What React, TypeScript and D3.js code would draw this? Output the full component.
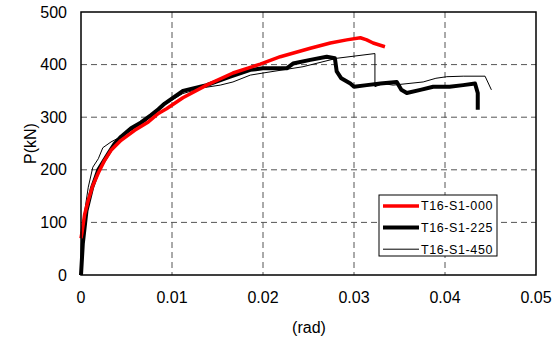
import * as d3 from 'd3';

// T16-S1-000 (red, thick)
const red000: [number, number][] = [
  [0, 70], [0.0001, 80], [0.0004, 115], [0.0008, 142], [0.0013, 170], [0.0019, 194],
  [0.0026, 218], [0.0033, 237], [0.0044, 256], [0.0059, 275], [0.0074, 291], [0.0085, 307],
  [0.0094, 316], [0.0112, 337], [0.0138, 361], [0.0167, 384], [0.0197, 401], [0.0219, 415],
  [0.0252, 431], [0.0274, 441], [0.0292, 447], [0.0307, 451], [0.0314, 447], [0.0321, 441],
  [0.0334, 434],
];

// T16-S1-225 (black, thick)
const black225: [number, number][] = [
  [0, 0], [0.0002, 60], [0.0006, 122], [0.0012, 165], [0.0019, 200], [0.003, 231],
  [0.0037, 250], [0.0044, 263], [0.0055, 279], [0.0066, 290], [0.0077, 304], [0.0085, 315],
  [0.0092, 326], [0.0112, 350], [0.0138, 361], [0.0164, 377], [0.0186, 390], [0.02, 393],
  [0.0226, 393], [0.0233, 402], [0.0252, 409], [0.027, 415], [0.0279, 412], [0.0281, 387],
  [0.0286, 374], [0.0296, 364], [0.03, 358], [0.0314, 361], [0.0329, 364], [0.0347, 367],
  [0.0352, 352], [0.0358, 346], [0.0373, 352], [0.0387, 358], [0.0405, 358], [0.042, 361],
  [0.0433, 364], [0.0436, 346], [0.0436, 314],
];

// T16-S1-450 (black, thin)
const black450: [number, number][] = [
  [0, 0], [0.0001, 60], [0.0002, 98], [0.0008, 167], [0.0013, 205], [0.0019, 221],
  [0.0024, 242], [0.0033, 253], [0.0044, 263], [0.007, 291], [0.009, 322], [0.0112, 345],
  [0.0134, 356], [0.0153, 361], [0.0167, 367], [0.0186, 380], [0.02, 384], [0.0244, 396],
  [0.0281, 412], [0.0323, 421], [0.0323, 358], [0.0332, 364], [0.0343, 361], [0.0376, 367],
  [0.039, 374], [0.0402, 377], [0.042, 378], [0.0444, 378], [0.0451, 352],
];

const xTicks = [0, 0.01, 0.02, 0.03, 0.04, 0.05];
const yTicks = [0, 100, 200, 300, 400, 500];

const series = [
  { name: 'T16-S1-000', data: red000, color: '#FF0000', width: 3.5 },
  { name: 'T16-S1-225', data: black225, color: '#000000', width: 4 },
  { name: 'T16-S1-450', data: black450, color: '#000000', width: 1 },
];

const W = 560;
const H = 338;
const left = 81;
const right = 536;
const top = 12;
const bottom = 275;
const font = 'Liberation Sans, Arial, sans-serif';

export default function App() {
  const x = d3.scaleLinear().domain([0, 0.05]).range([left, right]);
  const y = d3.scaleLinear().domain([0, 500]).range([bottom, top]);
  const line = d3.line<[number, number]>().x(d => x(d[0])).y(d => y(d[1]));

  return (
    <svg width={W} height={H} style={{ position: 'absolute', left: 0, top: 0, background: '#fff' }}>
      {/* grid */}
      {xTicks.slice(1, -1).map(t => (
        <line key={'gx' + t} x1={x(t)} x2={x(t)} y1={top} y2={bottom}
          stroke="#555" strokeWidth={1} strokeDasharray="6,4" />
      ))}
      {yTicks.slice(1, -1).map(t => (
        <line key={'gy' + t} x1={left} x2={right} y1={y(t)} y2={y(t)}
          stroke="#555" strokeWidth={1} strokeDasharray="6,4" />
      ))}

      {/* series */}
      {series.slice().reverse().map(s => (
        <path key={s.name} d={line(s.data) ?? ''} fill="none" stroke={s.color}
          strokeWidth={s.width} strokeLinejoin="round" />
      ))}

      {/* frame */}
      <rect x={left} y={top} width={right - left} height={bottom - top}
        fill="none" stroke="#000" strokeWidth={1.5} />

      {/* tick labels */}
      {yTicks.map(t => (
        <text key={'ty' + t} x={67} y={y(t)} dy="0.35em" textAnchor="end"
          fontFamily={font} fontSize={16}>{t}</text>
      ))}
      {xTicks.map(t => (
        <text key={'tx' + t} x={x(t)} y={303} textAnchor="middle"
          fontFamily={font} fontSize={16}>{t}</text>
      ))}

      {/* axis titles */}
      <text x={309} y={333} textAnchor="middle" fontFamily={font} fontSize={16}>(rad)</text>
      <text transform={`translate(36,${(top + bottom) / 2}) rotate(-90)`} textAnchor="middle"
        fontFamily={font} fontSize={16}>P(kN)</text>

      {/* legend */}
      <rect x={379} y={195} width={118} height={61} fill="#fff" stroke="#000" strokeWidth={1} />
      {series.map((s, i) => {
        const ly = 206 + i * 21.6;
        return (
          <g key={'lg' + s.name}>
            <line x1={383} x2={419} y1={ly} y2={ly} stroke={s.color} strokeWidth={s.width} />
            <text x={421} y={ly} dy="0.35em" fontFamily={font} fontSize={12.5}
              letterSpacing={0.6}>{s.name}</text>
          </g>
        );
      })}
    </svg>
  );
}
